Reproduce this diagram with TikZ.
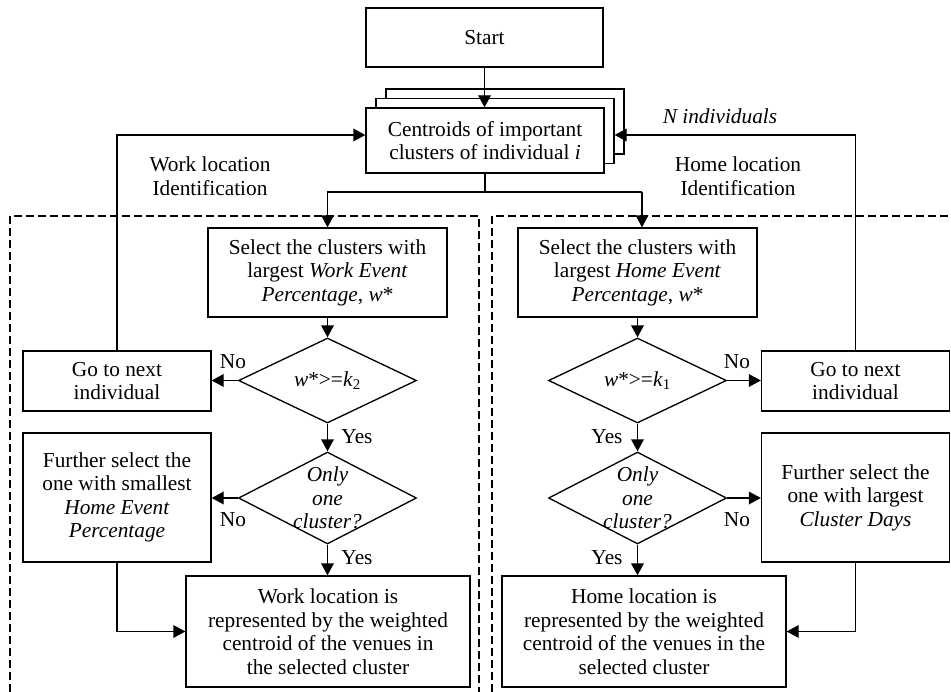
\documentclass[tikz,border=0pt]{standalone}
\usepackage{fontspec}
\setmainfont{Liberation Serif}
\usetikzlibrary{arrows.meta,calc,shapes.geometric}
\begin{document}
\begin{tikzpicture}[x=0.75pt,y=-0.75pt,
  every node/.style={font=\fontsize{16}{17.6}\selectfont},
  box/.style={draw, line width=1pt, fill=white, align=center, inner sep=0pt},
  dia/.style={draw, line width=1pt, shape=diamond, inner sep=0pt, minimum width=133.5pt},
  lbl/.style={align=center, inner sep=0pt},
  conn/.style={line width=1pt},
  arr/.style={line width=1pt, -{Triangle[length=9pt,width=9.5pt]}},
  dbox/.style={line width=0.9pt, dash pattern=on 6pt off 3pt}]
\useasboundingbox (0,0) rectangle (951,692);
\clip (0,0) rectangle (951,692);
% dashed regions
\draw[dbox] (10,692) -- (10,216) -- (479,216) -- (479,692);
\draw[dbox] (492,692) -- (492,216) -- (951,216);
% top
\node[box, minimum width=177.75pt, minimum height=44.25pt] (start) at (484.5,37.5) {Start};
\node[box, minimum width=178.5pt, minimum height=48.75pt] (back) at (505,121.5) {};
\node[box, minimum width=178.5pt, minimum height=48.75pt] (mid) at (495,131) {};
\node[box, minimum width=178.5pt, minimum height=48.75pt] (front) at (485,140.5) {Centroids of important\\clusters of individual \textit{i}};
\node[lbl] (nind) at (720,116) {\textit{N individuals}};
\node[lbl] (wid) at (210,176) {Work location\\Identification};
\node[lbl] (hid) at (738,176) {Home location\\Identification};
% work side
\node[box, minimum width=179.25pt, minimum height=66.75pt] (wsel) at (327.5,272.5) {Select the clusters with\\largest \textit{Work Event}\\\textit{Percentage}, \textit{w}*};
\node[dia, minimum height=63.75pt, label={[lbl]center:\textit{w}*>=\textit{k}\textsubscript{2}}] (d1) at (327.5,380.5) {};
\node[box, minimum width=141pt, minimum height=45pt] (wnext) at (117,381) {Go to next\\individual};
\node[dia, minimum height=69pt, label={[lbl]center:\textit{Only}\\\textit{one}\\\textit{cluster?}}] (d3) at (327.5,498) {};
\node[box, minimum width=141pt, minimum height=96.75pt] (wfur) at (117,497.5) {Further select the\\one with smallest\\\textit{Home Event}\\\textit{Percentage}};
\node[box, minimum width=213pt, minimum height=83.25pt] (wloc) at (328,631.5) {Work location is\\represented by the weighted\\centroid of the venues in\\the selected cluster};
% home side
\node[box, minimum width=179.25pt, minimum height=66.75pt] (hsel) at (637.5,272.5) {Select the clusters with\\largest \textit{Home Event}\\\textit{Percentage}, \textit{w}*};
\node[dia, minimum height=63.75pt, label={[lbl]center:\textit{w}*>=\textit{k}\textsubscript{1}}] (d2) at (637.5,380.5) {};
\node[box, minimum width=141pt, minimum height=45pt] (hnext) at (855.5,381) {Go to next\\individual};
\node[dia, minimum height=69pt, label={[lbl]center:\textit{Only}\\\textit{one}\\\textit{cluster?}}] (d4) at (637.5,498) {};
\node[box, minimum width=141pt, minimum height=96.75pt] (hfur) at (855.5,497.5) {Further select the\\one with largest\\\textit{Cluster Days}};
\node[box, minimum width=213pt, minimum height=83.25pt] (hloc) at (644,631.5) {Home location is\\represented by the weighted\\centroid of the venues in the\\selected cluster};
% labels
\node[lbl] (no1) at (233,362) {No};
\node[lbl] (no2) at (737,362) {No};
\node[lbl] (no3) at (233,520) {No};
\node[lbl] (no4) at (737,520) {No};
\node[lbl] (yes1) at (357,437) {Yes};
\node[lbl] (yes2) at (607,437) {Yes};
\node[lbl] (yes3) at (357,558) {Yes};
\node[lbl] (yes4) at (607,558) {Yes};
% coordinates
\coordinate (split) at (485,192);
\coordinate (jL) at (117,135);
\coordinate (jR) at (855.5,135);
\coordinate (hin) at (642,192);
% connectors
\draw[arr] (start.south) -- (start.south |- front.north);
\draw[conn] (front.south) -- (split);
\draw[arr] (split) -| (wsel.north);
\draw[conn] (split) -- (hin);
\draw[arr] (hin) -- (hin |- hsel.north);
\draw[arr] (wnext.north) -- (jL) -- (jL -| front.west);
\draw[arr] (hnext.north) -- (jR) -- (jR -| mid.east);
\draw[arr] (wsel.south) -- (d1.north);
\draw[arr] (hsel.south) -- (d2.north);
\draw[arr] (d1.west) -- (d1.west -| wnext.east);
\draw[arr] (d2.east) -- (d2.east -| hnext.west);
\draw[arr] (d1.south) -- (d3.north);
\draw[arr] (d2.south) -- (d4.north);
\draw[arr] (d3.west) -- (d3.west -| wfur.east);
\draw[arr] (d4.east) -- (d4.east -| hfur.west);
\draw[arr] (d3.south) -- (d3.south |- wloc.north);
\draw[arr] (d4.south) -- (d4.south |- hloc.north);
\draw[arr] (wfur.south) |- (wloc.west);
\draw[arr] (hfur.south) |- (hloc.east);
\end{tikzpicture}
\end{document}
